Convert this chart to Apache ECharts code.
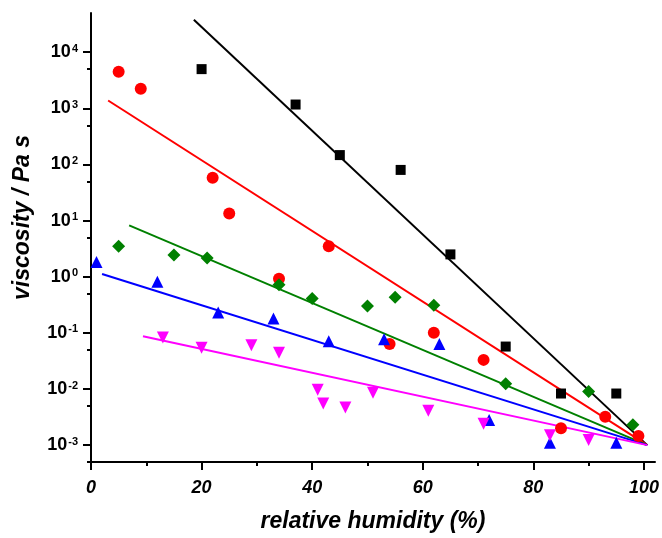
<!DOCTYPE html>
<html>
<head>
<meta charset="utf-8">
<script src="https://cdn.jsdelivr.net/npm/echarts@6/dist/echarts.min.js"></script>
<style>html,body{margin:0;padding:0;background:#fff}#c{width:662px;height:538px}</style>
</head>
<body>
<div id="c"></div>
<script>
// ---- data ----
const blackX = [20, 37, 45, 56, 65, 75, 85, 95];
const blackY = [5000, 1170, 147, 80, 2.5, 0.057, 0.0083, 0.0083];
const redX = [5, 9, 22, 25, 34, 43, 54, 62, 71, 85, 93, 99];
const redY = [4470, 2240, 58, 13.4, 0.92, 3.5, 0.063, 0.10, 0.033, 0.002, 0.0032, 0.00145];
const greenX = [5, 15, 21, 34, 40, 50, 55, 62, 75, 90, 98];
const greenY = [3.5, 2.43, 2.15, 0.72, 0.41, 0.30, 0.43, 0.31, 0.0124, 0.009, 0.0023];
const blueX = [1, 12, 23, 33, 43, 53, 63, 72, 83, 95];
const blueY = [1.83, 0.81, 0.23, 0.18, 0.071, 0.077, 0.063, 0.0028, 0.0011, 0.0011];
const magentaX = [13, 20, 29, 34, 41, 42, 46, 51, 61, 71, 83, 90];
const magentaY = [0.083, 0.054, 0.06, 0.044, 0.0097, 0.0055, 0.0047, 0.0086, 0.0041, 0.0024, 0.0015, 0.00123];

// fitted lines (end points)
const blackFitX = [18.6, 100.6];
const blackFitY = [38000, 0.001];
const redFitX = [3.1, 100.6];
const redFitY = [1380, 0.001];
const greenFitX = [6.9, 100.6];
const greenFitY = [8.2, 0.001];
const blueFitX = [2.0, 100.6];
const blueFitY = [1.12, 0.001];
const magentaFitX = [9.4, 100.6];
const magentaFitY = [0.087, 0.001];

// ticks
const xTickValues = [0, 20, 40, 60, 80, 100];
const xMinorTickValues = [10, 30, 50, 70, 90];
const yTickValues = [1e-3, 1e-2, 1e-1, 1e0, 1e1, 1e2, 1e3, 1e4];
const yMinorTickValues = [5e-4, 5e-3, 5e-2, 5e-1, 5e0, 5e1, 5e2, 5e3];

const xTitle = 'relative humidity (%)';
const yTitle = 'viscosity / Pa s';

function zip(xs, ys) { return xs.map((x, i) => [x, ys[i]]); }

const FONT = '"Liberation Sans", Arial, sans-serif';
const axisLineStyle = { color: '#000', width: 2 };

const scatterDefs = [
  { x: blackX, y: blackY, color: '#000000', symbol: 'rect', size: 10, rotate: 0 },
  { x: redX, y: redY, color: '#ff0000', symbol: 'circle', size: 12, rotate: 0 },
  { x: greenX, y: greenY, color: '#008000', symbol: 'diamond', size: 13, rotate: 0 },
  { x: blueX, y: blueY, color: '#0000ff', symbol: 'triangle', size: 12, rotate: 0 },
  { x: magentaX, y: magentaY, color: '#ff00ff', symbol: 'triangle', size: 12, rotate: 180 }
];
const fitDefs = [
  { x: blackFitX, y: blackFitY, color: '#000000' },
  { x: redFitX, y: redFitY, color: '#ff0000' },
  { x: greenFitX, y: greenFitY, color: '#008000' },
  { x: blueFitX, y: blueFitY, color: '#0000ff' },
  { x: magentaFitX, y: magentaFitY, color: '#ff00ff' }
];

const series = [];
fitDefs.forEach(d => series.push({
  type: 'line', data: zip(d.x, d.y), showSymbol: false, symbol: 'none',
  lineStyle: { color: d.color, width: 2 }, z: 2, silent: true
}));
scatterDefs.forEach(d => series.push({
  type: 'scatter', data: zip(d.x, d.y), symbol: d.symbol, symbolSize: d.size,
  symbolRotate: d.rotate, itemStyle: { color: d.color, opacity: 1 }, z: 3
}));

const chart = echarts.init(document.getElementById('c'), null, { renderer: 'canvas' });
chart.setOption({
  animation: false,
  backgroundColor: '#ffffff',
  grid: { left: 91, right: 7, top: 13, bottom: 71, containLabel: false },
  xAxis: [{
    type: 'value', min: 0, max: 102,
    axisLine: { show: true, onZero: false, lineStyle: axisLineStyle },
    axisTick: { show: true, length: 8, lineStyle: { color: '#000', width: 2 }, customValues: xTickValues },
    axisLabel: {
      customValues: xTickValues, margin: 17, color: '#000',
      fontFamily: FONT, fontSize: 18, fontWeight: 'bold', fontStyle: 'italic'
    },
    splitLine: { show: false },
    name: xTitle, nameLocation: 'middle', nameGap: 48,
    nameTextStyle: { fontFamily: FONT, fontSize: 23, fontWeight: 'bold', fontStyle: 'italic', color: '#000' }
  }, {
    type: 'value', min: 0, max: 102, position: 'bottom', offset: 0,
    axisLine: { show: false },
    axisTick: { show: true, length: 4, lineStyle: { color: '#000', width: 2 }, customValues: xMinorTickValues },
    axisLabel: { show: false },
    splitLine: { show: false }
  }],
  yAxis: [{
    type: 'log', logBase: 10, min: 5e-4, max: 5e4,
    axisLine: { show: true, onZero: false, lineStyle: axisLineStyle },
    axisTick: { show: true, length: 8, lineStyle: { color: '#000', width: 2 }, customValues: yTickValues },
    axisLabel: {
      customValues: yTickValues, margin: 13,
      formatter: v => '{b|10}{s|' + Math.round(Math.log10(v)) + '}',
      rich: {
        b: { fontFamily: FONT, fontSize: 18, fontWeight: 'bold', color: '#000' },
        s: { fontFamily: FONT, fontSize: 11, fontWeight: 'bold', color: '#000', verticalAlign: 'top', padding: [0, 0, 0, 1] }
      }
    },
    splitLine: { show: false },
    name: yTitle, nameLocation: 'middle', nameGap: 57,
    nameTextStyle: { fontFamily: FONT, fontSize: 23, fontWeight: 'bold', fontStyle: 'italic', color: '#000', padding: [0, 0, 0, 40] }
  }, {
    type: 'log', logBase: 10, min: 5e-4, max: 5e4, position: 'left', offset: 0,
    axisLine: { show: false },
    axisTick: { show: true, length: 4, lineStyle: { color: '#000', width: 2 }, customValues: yMinorTickValues },
    axisLabel: { show: false },
    splitLine: { show: false }
  }],
  series: series
});
</script>
</body>
</html>
